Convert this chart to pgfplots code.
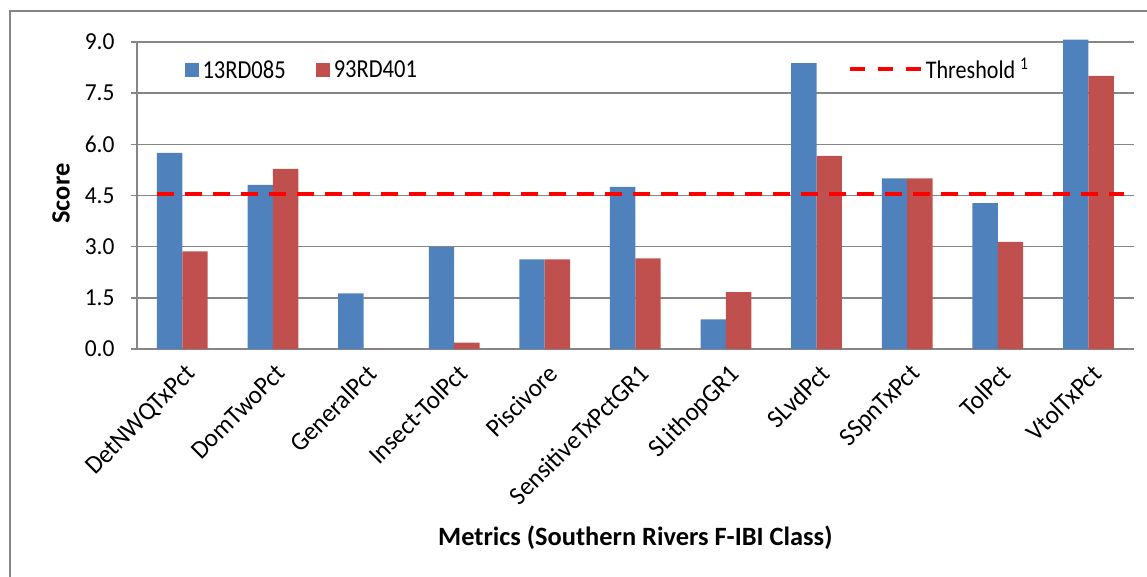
\documentclass[border=0pt]{standalone}
\usepackage{pgfplots}
\pgfplotsset{compat=1.18}
\usepackage{fontspec}
\setmainfont{Carlito}
\newfontfamily\tickfont{Carlito}[FakeStretch=0.96]
\newfontfamily\legfont{Carlito}[FakeStretch=0.87]
\definecolor{barblue}{RGB}{79,129,189}
\definecolor{barred}{RGB}{192,80,77}
\definecolor{gridgray}{RGB}{134,134,134}
\definecolor{thred}{RGB}{255,0,0}
\begin{document}
\begin{tikzpicture}
\path[use as bounding box] (-137bp,-228bp) rectangle (1010bp,349bp);
\draw[gridgray, line width=2bp] (-126.5bp,-228bp) -- (-126.5bp,338bp) -- (1010bp,338bp);
\begin{axis}[
  scale only axis,
  width=996.7bp, height=307bp,
  xmin=-0.5, xmax=10.5, ymin=0, ymax=9,
  clip=false,
  axis x line*=bottom, axis y line*=left,
  axis line style={gridgray, line width=1.5bp},
  ymajorgrids, grid style={gridgray, line width=1.5bp},
  ytick={0,1.5,3,4.5,6,7.5,9},
  yticklabel style={/pgf/number format/fixed, /pgf/number format/fixed zerofill, /pgf/number format/precision=1, /pgf/number format/assume math mode=true, xshift=-13bp},
  xtick={0,...,10},
  xticklabels={DetNWQTxPct,DomTwoPct,GeneralPct,Insect-TolPct,Piscivore,SensitiveTxPctGR1,SLithopGR1,SLvdPct,SSpnTxPct,TolPct,VtolTxPct},
  minor xtick={-0.5,0.5,...,10.5},
  tick align=outside,
  major tick length=6bp, minor tick length=7bp,
  xtick style={draw=none},
  minor tick style={gridgray, line width=1.5bp},
  ytick style={gridgray, line width=1.5bp},
  tick label style={font=\tickfont\fontsize{24.5}{29}\selectfont, black},
  xticklabel style={rotate=45, anchor=north east, inner sep=2bp, yshift=-5bp, xshift=-2bp, font=\tickfont\fontsize{26}{30}\selectfont},
  xlabel={\textbf{Metrics (Southern Rivers F-IBI Class)}},
  xlabel style={at={(axis description cs:0.5,-0.6156)}, anchor=center, font=\fontsize{26.5}{30}\selectfont},
  ylabel={\textbf{Score}},
  ylabel style={at={(axis description cs:-0.0763,0.5065)}, anchor=center, font=\fontsize{26.5}{30}\selectfont},
  legend style={at={(axis description cs:0.048,0.909)}, anchor=west, draw=none, fill=none, inner sep=0pt,
    font=\legfont\fontsize{26}{30}\selectfont, nodes={inner sep=3.5bp},
    /tikz/every even column/.append style={column sep=27bp}},
  legend columns=2,
]
\addplot[ybar, bar width=0.28, bar shift=-0.14, fill=barblue, draw=none,
  legend image code/.code={\fill[barblue] (0bp,-7bp) rectangle (14bp,7bp);}]
  coordinates {(0,5.75) (1,4.81) (2,1.63) (3,2.99) (4,2.63) (5,4.75) (6,0.87) (7,8.38) (8,5.0) (9,4.28) (10,9.07)};
\addlegendentry{13RD085}
\addplot[ybar, bar width=0.28, bar shift=0.14, fill=barred, draw=none,
  legend image code/.code={\fill[barred] (0bp,-7bp) rectangle (14bp,7bp);}]
  coordinates {(0,2.86) (1,5.28) (2,0) (3,0.19) (4,2.63) (5,2.66) (6,1.67) (7,5.66) (8,5.0) (9,3.14) (10,8.01)};
\addlegendentry{93RD401}
\end{axis}
\begin{axis}[
  scale only axis,
  width=996.7bp, height=307bp,
  xmin=-0.5, xmax=10.5, ymin=0, ymax=9,
  clip=false, hide axis,
  legend style={at={(axis description cs:0.713,0.912)}, anchor=west, draw=none, fill=none, inner sep=0pt,
    font=\legfont\fontsize{25.5}{30}\selectfont, nodes={inner sep=3.5bp}},
]
\addplot[thred, line width=3.5bp, dash pattern=on 17bp off 11bp,
  legend image code/.code={\draw[thred, line width=3.5bp, dash pattern=on 15bp off 13bp] (0bp,0bp) -- (71bp,0bp);}]
  coordinates {(-0.28,4.54) (10.39,4.54)};
\addlegendentry{Threshold \textsuperscript{1}}
\end{axis}
\end{tikzpicture}
\end{document}
